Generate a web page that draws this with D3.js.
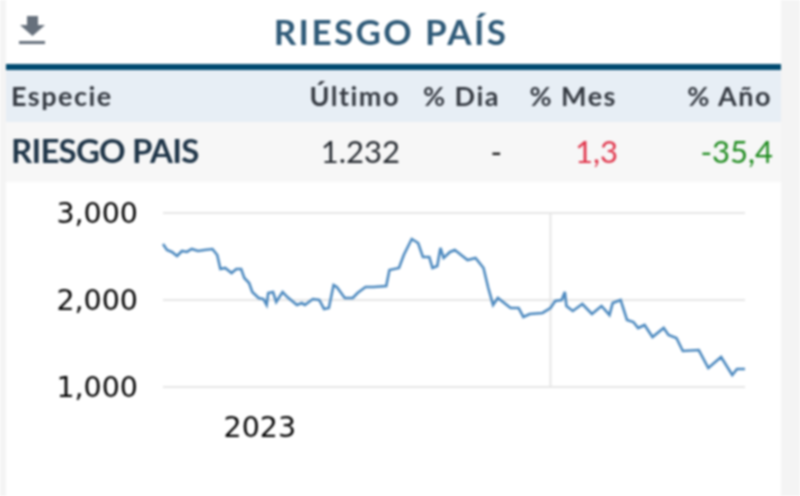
<!DOCTYPE html>
<html>
<head>
    <meta charset="utf-8">
    <style>
        html, body { margin:0; padding:0; background:#fff; overflow:hidden; }
        svg { display:block; filter:blur(0.9px); }
        text { font-family:Lato, sans-serif; }
        .head { font-size:27px; font-weight:700; fill:#353a42; letter-spacing:1.5px; }
        .cell { font-size:31px; }
        .axis text { font-size:28.5px; fill:#000; font-family:"DejaVu Sans", sans-serif; }
        .axis path, .axis line { display:none; }
        .grid line { stroke:#e6e6e6; stroke-width:2px; }
    </style>
    <script src="https://d3js.org/d3.v7.min.js"></script>
</head>
<body>
<script>
    let title = "RIESGO PAÍS";
    let columns = ["Especie", "Último", "% Dia", "% Mes", "% Año"];
    let row = ["RIESGO PAIS", "1.232", "-", "1,3", "-35,4"];

    // days since the start of the series, and the index on each of them
    let days = [0,2.5,5.6,8.8,11.9,15,18,22,26,31,34,36,39,43,46,49,51,54,56,60,63,65,66,69,71,75,78,84,87,89,94,98,101,104,107,109,114,119,122,127,132,140,142,148,151,156,160,163,167,169,172,174,176,180,183,191,196,201,204,207,210,218,223,226,230,238,243,246,250,252,253,257,263,269,275,280,282,287,291,295,298,302,307,314,317,322,326,336,342,350,357,360,365];
    let values = [2644,2575,2552,2506,2563,2552,2586,2563,2575,2586,2517,2356,2368,2310,2356,2356,2253,2195,2092,2023,2011,1943,2080,2092,1977,2092,2034,1943,1965,1943,2011,2000,1897,1908,2172,2149,2023,2023,2080,2149,2149,2161,2345,2368,2517,2701,2655,2494,2494,2368,2391,2598,2483,2552,2575,2460,2483,2368,2138,1943,2023,1908,1908,1805,1839,1851,1908,1988,2000,2092,1931,1874,1954,1839,1931,1828,1965,2000,1770,1747,1678,1713,1575,1678,1598,1563,1414,1425,1218,1345,1138,1207,1207];

    let y_ticks = [1000, 2000, 3000];
    let x_grid = [243];
    let x_labels = [{day:61, label:"2023"}];

    let w = 800, h = 496;
    let svg = d3.select("body").append("svg").attr("width", w).attr("height", h);

    // card background
    svg.append("rect").attr("x", 0).attr("y", 0).attr("width", w).attr("height", h).attr("fill", "#f4f4f4");
    svg.append("rect").attr("x", 6).attr("y", 0).attr("width", 775).attr("height", h).attr("fill", "#fff");

    // download icon
    let icon = svg.append("g").attr("fill", "#66707c");
    icon.append("path").attr("d", "M27 16h11v9h7L32.5 36 20 25h7z");
    icon.append("rect").attr("x", 19).attr("y", 41).attr("width", 26).attr("height", 3);

    svg.append("text")
        .attr("x", 391).attr("y", 45)
        .attr("text-anchor", "middle")
        .attr("fill", "#2f5a78")
        .style("font-size", "35px").style("font-weight", 700).style("letter-spacing", "2.4px")
        .text(title);

    // table
    svg.append("rect").attr("x", 6).attr("y", 64).attr("width", 775).attr("height", 6).attr("fill", "#004a70");
    svg.append("rect").attr("x", 6).attr("y", 70).attr("width", 775).attr("height", 52).attr("fill", "#e7eef5");
    svg.append("rect").attr("x", 6).attr("y", 122).attr("width", 775).attr("height", 60).attr("fill", "#f7f7f7");

    let head_x = [11, 400, 500, 617, 772];
    svg.selectAll("text.head").data(columns).join("text")
        .attr("class", "head")
        .attr("x", (d,i) => head_x[i])
        .attr("y", 106)
        .attr("text-anchor", (d,i) => i == 0 ? "start" : "end")
        .text(d => d);

    let cell_x = [11, 400, 502, 618, 773];
    let cell_color = ["#1f3548", "#24292f", "#111", "#e0344a", "#1c8a1c"];
    svg.selectAll("text.cell").data(row).join("text")
        .attr("class", "cell")
        .attr("x", (d,i) => cell_x[i])
        .attr("y", 163)
        .attr("text-anchor", (d,i) => i == 0 ? "start" : "end")
        .style("fill", (d,i) => cell_color[i])
        .style("font-weight", (d,i) => i == 0 ? 700 : 400)
        .style("font-size", (d,i) => i == 0 ? "33px" : "31px")
        .style("letter-spacing", (d,i) => i == 0 ? "-0.8px" : "0")
        .text(d => d);

    // chart
    let x_scale = d3.scaleLinear().domain([0, 365]).range([163, 745]);
    let y_scale = d3.scaleLinear().domain([1000, 3000]).range([387, 213]);

    svg.append("g").attr("class", "grid")
        .selectAll("line").data(y_ticks).join("line")
        .attr("x1", x_scale(0)).attr("x2", x_scale(365))
        .attr("y1", d => y_scale(d)).attr("y2", d => y_scale(d));

    svg.append("g").attr("class", "grid")
        .selectAll("line").data(x_grid).join("line")
        .attr("x1", d => x_scale(d)).attr("x2", d => x_scale(d))
        .attr("y1", y_scale(3000)).attr("y2", y_scale(1000));

    let y_axis = d3.axisLeft(y_scale).tickValues(y_ticks).tickFormat(d3.format(",")).tickSize(0).tickPadding(0);
    svg.append("g").attr("class", "axis")
        .attr("transform", "translate(138,0)")
        .call(y_axis);

    let x_axis = d3.axisBottom(x_scale)
        .tickValues(x_labels.map(d => d.day))
        .tickFormat((d,i) => x_labels[i].label)
        .tickSize(0).tickPadding(0);
    svg.append("g").attr("class", "axis")
        .attr("transform", "translate(-1,417)")
        .call(x_axis);

    let line = d3.line()
        .x((d,i) => x_scale(days[i]))
        .y(d => y_scale(d));

    svg.append("path")
        .attr("d", line(values))
        .attr("fill", "none")
        .attr("stroke", "#4c89bf")
        .attr("stroke-width", 2.6);
</script>
</body>
</html>
